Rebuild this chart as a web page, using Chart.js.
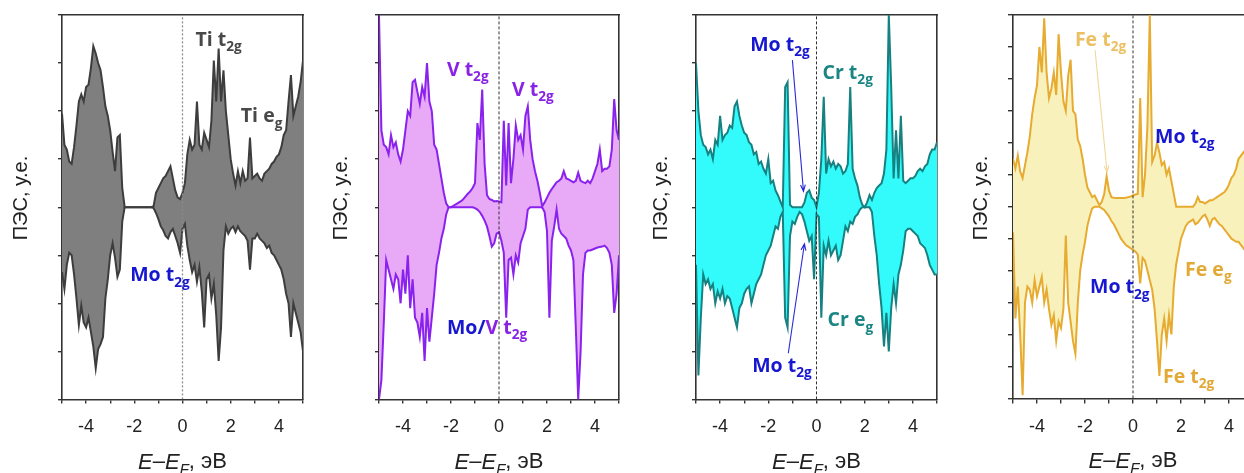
<!DOCTYPE html>
<html>
<head>
<meta charset="utf-8">
<title>DOS</title>
<script src="https://cdn.jsdelivr.net/npm/chart.js@4"></script>
<style>
  html, body { margin: 0; padding: 0; background: #fff; }
  #wrap { position: relative; width: 1244px; height: 473px; overflow: hidden; }
  #wrap canvas { position: absolute; top: 0; }
</style>
</head>
<body>
<div id="wrap">
  <canvas id="dosTi" width="320" height="473" style="left:0px"></canvas>
  <canvas id="dosV" width="320" height="473" style="left:320px"></canvas>
  <canvas id="dosCr" width="320" height="473" style="left:640px"></canvas>
  <canvas id="dosFe" width="320" height="473" style="left:960px"></canvas>
</div>
<script>
// energy grid, eV relative to E_F
const energies = [
  -5.0, -4.9, -4.8, -4.7, -4.6, -4.5, -4.4, -4.3, -4.2, -4.1,
  -4.0, -3.9, -3.8, -3.7, -3.6, -3.5, -3.4, -3.3, -3.2, -3.1,
  -3.0, -2.9, -2.8, -2.7, -2.6, -2.5, -2.4, -2.3, -2.2, -2.1,
  -2.0, -1.9, -1.8, -1.7, -1.6, -1.5, -1.4, -1.3, -1.2, -1.1,
  -1.0, -0.9, -0.8, -0.7, -0.6, -0.5, -0.4, -0.3, -0.2, -0.1,
  0.0, 0.1, 0.2, 0.3, 0.4, 0.5, 0.6, 0.7, 0.8, 0.9,
  1.0, 1.1, 1.2, 1.3, 1.4, 1.5, 1.6, 1.7, 1.8, 1.9,
  2.0, 2.1, 2.2, 2.3, 2.4, 2.5, 2.6, 2.7, 2.8, 2.9,
  3.0, 3.1, 3.2, 3.3, 3.4, 3.5, 3.6, 3.7, 3.8, 3.9,
  4.0, 4.1, 4.2, 4.3, 4.4, 4.5, 4.6, 4.7, 4.8, 4.9,
  5.0,
];
const eFermi = 0;
const xTickLabels = ["-4", "-2", "0", "2", "4"];

// Ti-based compound: spin up / spin down
const tiUp = [
  1.95, 1.3, 1.2, 0.95, 0.9, 1.25, 1.7, 2.2, 2.35, 2.2,
  2.5, 2.55, 2.9, 3.35, 3.2, 3.0, 2.85, 2.5, 2.1, 1.9,
  1.6, 1.15, 0.75, 1.45, 1.5, 0.4, 0, 0, 0, 0,
  0, 0, 0, 0, 0, 0, 0, 0, 0.02, 0.3,
  0.4, 0.5, 0.6, 0.65, 0.75, 0.85, 0.6, 0.35, 0.2, 0.17,
  0.3, 0.5, 1.1, 1.4, 1.2, 1.3, 2.2, 1.3, 1.2, 1.55,
  1.4, 1.25, 1.8, 3.05, 2.2, 3.3, 2.2, 2.85, 2.0, 1.5,
  1.0, 0.7, 0.45, 0.75, 0.5, 0.75, 0.55, 0.6, 1.45, 0.6,
  0.65, 0.7, 0.6, 0.55, 0.7, 0.75, 0.8, 0.9, 0.95, 1.05,
  1.1, 1.25, 1.5, 1.6, 2.2, 2.75, 1.9, 2.1, 2.3, 2.6,
  3.05,
];
const tiDown = [
  -1.35, -1.7, -1.2, -0.95, -1.0, -1.4, -1.9, -2.45, -2.05, -2.4,
  -2.5, -2.3, -2.6, -2.9, -3.35, -2.95, -2.85, -2.7, -1.9, -1.5,
  -1.0, -0.75, -1.05, -1.45, -1.3, -0.3, 0, 0, 0, 0,
  0, 0, 0, 0, 0, 0, 0, 0, -0.02, -0.12,
  -0.25, -0.4, -0.48, -0.6, -0.65, -0.52, -0.45, -0.6, -0.75, -0.95,
  -0.45, -0.35, -0.8, -1.1, -1.35, -1.2, -1.55, -1.25, -1.75, -2.5,
  -1.5, -1.4, -1.9, -1.6, -2.25, -3.2, -2.5, -0.9, -0.4, -0.55,
  -0.45, -0.4, -0.52, -0.4, -0.5, -0.55, -0.6, -0.7, -1.3, -0.65,
  -0.65, -0.55, -0.65, -0.7, -0.75, -0.85, -0.8, -0.95, -1.0, -1.1,
  -1.2, -1.3, -1.5, -1.8, -2.0, -2.7, -2.0, -2.2, -2.4, -2.6,
  -3.0,
];

// V-based compound
const vUp = [
  4.0, 1.6, 1.3, 1.25, 1.1, 1.5, 1.25, 1.35, 1.1, 0.95,
  1.2, 1.6, 2.0, 1.9, 2.6, 2.65, 2.4, 2.15, 2.5, 2.3,
  3.0, 2.2, 2.0, 1.3, 1.2, 0.9, 0.6, 0.3, 0.08, 0,
  0, 0.03, 0.06, 0.09, 0.12, 0.16, 0.22, 0.28, 0.33, 0.4,
  0.5, 1.75, 1.4, 2.45, 0.9, 0.25, 0.17, 0.15, 0.12, 0.13,
  0.12, 0.1, 1.8, 0.45, 1.75, 0.5, 1.0, 1.7, 1.4, 1.5,
  1.2, 1.9, 2.1, 1.4, 1.0, 0.75, 0.55, 0.3, 0.02, 0.1,
  0.2, 0.3, 0.38, 0.45, 0.52, 0.55, 0.6, 0.75, 0.6, 0.58,
  0.55, 0.52, 0.55, 0.72, 0.55, 0.52, 0.5, 0.55, 0.5, 0.6,
  0.75, 0.9, 1.2, 0.75, 0.8, 0.8, 0.85, 1.2, 2.25, 1.6,
  1.4,
];
const vDown = [
  -4.0, -3.6, -2.4, -1.1, -1.3, -1.5, -1.7, -1.4, -1.5, -2.0,
  -1.3, -1.8, -1.0, -2.1, -1.5, -2.3, -2.4, -2.7, -2.2, -3.2,
  -2.1, -2.8, -2.3, -1.8, -1.2, -0.95, -0.65, -0.45, -0.15, 0,
  0, 0, 0, 0, 0, 0, 0, 0, 0, 0,
  -0.02, -0.05, -0.1, -0.18, -0.28, -0.4, -0.6, -0.82, -0.75, -0.55,
  -0.52, -0.7, -0.95, -2.3, -1.1, -1.05, -1.4, -1.0, -1.15, -0.75,
  -0.6, -0.45, -0.05, 0, 0, 0, 0, 0, 0, -0.1,
  -0.5, -2.3, -0.7, -0.4, -0.05, -0.45, -0.55, -0.6, -0.65, -0.8,
  -0.9, -1.1, -2.5, -4.0, -3.0, -1.4, -0.95, -0.9, -0.9, -0.88,
  -0.86, -0.84, -0.83, -0.82, -0.8, -0.85, -0.95, -1.2, -2.2, -1.8,
  -1.0,
];

// Cr-based compound
const crUp = [
  3.0, 2.0, 1.5, 1.3, 1.25, 1.1, 1.2, 1.0, 1.4, 1.3,
  1.9, 1.4, 1.5, 1.55, 1.7, 1.65, 2.1, 2.2, 1.9, 1.7,
  1.55, 1.5, 1.35, 1.3, 1.1, 1.15, 0.9, 0.95, 0.8, 0.7,
  1.0, 0.5, 0.55, 0.35, 0.25, 0.12, 0, 2.5, 2.6, 0.05,
  0, 0, 0, 0, 0, 0.1, 0.3, 0.35, 0.2, 0.15,
  0, 0.3, 1.0, 2.3, 0.7, 1.0, 0.85, 0.95, 0.8, 0.9,
  0.85, 0.7, 0.75, 0.9, 2.5, 0.8, 0.6, 0.45, 0.2, 0.05,
  0, 0.1, 0.25, 0.15, 0.3, 0.4, 0.45, 0.5, 0.7, 1.2,
  4.0, 2.5, 0.6, 1.6, 0.6, 1.9, 0.55, 0.5, 0.55, 0.6,
  0.6, 0.65, 0.75, 0.8, 0.75, 0.85, 0.9, 1.1, 1.2, 1.2,
  1.35,
];
const crDown = [
  -1.2, -3.5, -2.3, -1.4, -1.6, -1.5, -1.7, -1.6, -2.0, -1.75,
  -1.9, -1.7, -2.0, -1.85, -1.9, -2.1, -2.3, -2.5, -2.1, -2.0,
  -1.8, -1.7, -1.65, -2.0, -1.8, -1.6, -1.5, -1.4, -1.2, -1.0,
  -0.9, -0.8, -0.6, -0.4, -0.45, -0.2, -0.1, -2.3, -2.5, -0.6,
  -0.3, -0.35, -0.2, -0.1, -0.15, -0.3, -0.5, -0.7, -0.6, -1.5,
  -0.15, -0.2, -2.3, -0.8, -1.0, -0.7, -1.0, -0.9, -0.8, -1.1,
  -1.0, -0.7, -0.4, -0.5, -0.3, -0.35, -0.2, -0.15, -0.05, 0,
  0, 0, 0, -0.1, -0.6, -1.0, -1.6, -2.1, -2.9, -2.2,
  -3.0, -2.1, -1.6, -2.0, -1.4, -1.2, -0.9, -0.5, -0.45, -0.45,
  -0.5, -0.55, -0.6, -0.75, -0.8, -0.85, -1.0, -1.2, -1.3, -1.4,
  -1.4,
];

// Fe-based compound (wider y range)
const feUp = [
  1.5, 1.2, 1.6, 1.1, 0.9, 1.3, 1.7, 2.2, 2.9, 3.4,
  3.8, 5.0, 4.2, 5.9, 4.2, 3.4, 3.7, 4.2, 3.5, 5.4,
  4.2, 3.3, 3.0, 4.1, 4.6, 3.0, 2.9, 2.1, 1.9, 1.5,
  1.0, 0.6, 0.45, 0.3, 0.35, 0.2, 0.05, 0.15, 0.4, 0.95,
  0.5, 0.3, 0.28, 0.27, 0.27, 0.27, 0.27, 0.28, 0.3, 0.32,
  0.35, 0.38, 0.4, 3.4, 0.3, 1.0, 2.5, 6.0, 1.4, 1.6,
  2.0, 1.7, 1.3, 1.4, 1.0, 1.2, 0.8, 0.4, 0, 0,
  0, 0, 0, 0, 0, 0, 0.1, 0.3, 0.15, 0.15,
  0.1, 0.15, 0.2, 0.2, 0.25, 0.3, 0.35, 0.4, 0.45, 0.55,
  0.7, 0.9, 1.0, 1.2, 1.5, 1.6, 1.7, 1.8, 1.9, 2.0,
  2.1,
];
const feDown = [
  -0.8, -3.5, -2.5, -4.0, -5.9, -3.0, -2.5, -2.6, -3.0, -2.3,
  -2.8, -2.5, -2.2, -3.0, -2.6, -3.2, -3.7, -3.4, -4.2, -3.6,
  -3.8, -3.2, -0.9, -3.0, -3.6, -4.2, -4.6, -3.0, -2.0, -1.5,
  -1.1, -0.6, -0.3, -0.05, 0, 0, 0, -0.05, -0.1, -0.2,
  -0.3, -0.45, -0.55, -0.7, -0.85, -1.0, -1.1, -1.2, -1.25, -1.3,
  -1.35, -1.4, -1.5, -2.4, -1.6, -1.7, -2.0, -2.3, -2.6, -3.2,
  -4.2, -5.3, -4.0, -3.5, -4.2, -3.4, -4.0, -2.5, -1.8, -1.4,
  -1.0, -0.8, -0.6, -0.5, -0.45, -0.4, -0.55, -0.5, -0.4, -0.3,
  -0.25, -0.4, -0.6, -0.4, -0.35, -0.45, -0.55, -0.6, -0.7, -0.8,
  -0.9, -1.0, -1.05, -1.1, -1.1, -1.2, -1.3, -1.4, -1.4, -1.5,
  -1.5,
];

const SANS = '"Liberation Sans", Arial, sans-serif';
const BOLD = '"Open Sans", "DejaVu Sans", sans-serif';
const AXIS = "#333333";
const MO = "#1717cf";

// text run helpers for orbital labels, e.g. "Ti t" + subscript "2g"
const run = (text, color, sub = false) => ({ text, color, sub });
const orb = (e, v, color, main) => ({ e, v, runs: [run(main, color), run("2g", color, true)] });
const orbEg = (e, v, color, main) => ({ e, v, runs: [run(main, color), run("g", color, true)] });

const panels = [
  {
    id: "dosTi", up: tiUp, down: tiDown, yMax: 4, tick: 4,
    line: "#3d3d3d", fill: "#7f7f7f",
    zero: { color: "#8a8a8a", dash: [2, 2], width: 1.3 },
    padLeft: 58, padRight: 17,
    labels: [
      orb(0.54, 3.47, "#484848", "Ti t"),
      orbEg(2.42, 1.88, "#484848", "Ti e"),
      orb(-2.17, -1.43, MO, "Mo t"),
    ],
    arrows: [],
  },
  {
    id: "dosV", up: vUp, down: vDown, yMax: 4, tick: 4,
    line: "#8a22ee", fill: "#e8a9f7",
    zero: { color: "#333", dash: [3, 2], width: 1 },
    padLeft: 55, padRight: 21,
    labels: [
      orb(-2.17, 2.85, "#8a22e6", "V t"),
      orb(0.54, 2.44, "#8a22e6", "V t"),
      { e: -2.17, v: -2.52, runs: [run("Mo/", MO), run("V t", "#8a22e6"), run("2g", "#8a22e6", true)] },
    ],
    arrows: [],
  },
  {
    id: "dosCr", up: crUp, down: crDown, yMax: 4, tick: 4,
    line: "#178080", fill: "#33fbfb",
    zero: { color: "#333", dash: [3, 2], width: 1 },
    padLeft: 52, padRight: 23,
    labels: [
      orb(-2.75, 3.37, MO, "Mo t"),
      orb(0.25, 2.79, "#1b8585", "Cr t"),
      orbEg(0.46, -2.36, "#1b8585", "Cr e"),
      orb(-2.67, -3.31, MO, "Mo t"),
    ],
    arrows: [
      { from: [-1.0, 3.06], to: [-0.54, 0.33], color: "#2b2bd6" },
      { from: [-1.17, -3.04], to: [-0.5, -0.76], color: "#2b2bd6" },
    ],
  },
  {
    id: "dosFe", up: feUp, down: feDown, yMax: 6, tick: 5,
    line: "#e6ab30", fill: "#f8f1bb",
    zero: { color: "#333", dash: [3, 2], width: 1 },
    padLeft: 48, padRight: 27,
    labels: [
      orb(-2.42, 5.2, "#ecc062", "Fe t"),
      orb(0.92, 2.17, MO, "Mo t"),
      orb(-1.79, -2.54, MO, "Mo t"),
      orbEg(2.17, -1.98, "#e3a935", "Fe e"),
      orb(1.25, -5.33, "#e3a935", "Fe t"),
    ],
    arrows: [
      { from: [-1.58, 4.9], to: [-1.08, 1.08], color: "#f0d898" },
    ],
  },
];

function drawRuns(ctx, x, y, runs, size) {
  let cx = x;
  runs.forEach((r) => {
    const fs = r.sub ? size * 0.7 : size;
    ctx.font = `bold ${fs}px ${BOLD}`;
    ctx.fillStyle = r.color;
    ctx.fillText(r.text, cx, y + (r.sub ? size * 0.36 : 0));
    cx += ctx.measureText(r.text).width;
  });
}

function drawArrow(ctx, x1, y1, x2, y2, color) {
  const ang = Math.atan2(y2 - y1, x2 - x1);
  const head = 7;
  ctx.strokeStyle = color;
  ctx.lineWidth = 1.1;
  ctx.beginPath();
  ctx.moveTo(x1, y1);
  ctx.lineTo(x2, y2);
  ctx.moveTo(x2 - head * Math.cos(ang - 0.35), y2 - head * Math.sin(ang - 0.35));
  ctx.lineTo(x2, y2);
  ctx.lineTo(x2 - head * Math.cos(ang + 0.35), y2 - head * Math.sin(ang + 0.35));
  ctx.stroke();
}

// axis titles, orbital labels and arrows
const dosTextPlugin = {
  id: "dosText",
  afterDraw(chart, args, opts) {
    const { ctx, chartArea, scales } = chart;
    const px = (e) => scales.x.getPixelForValue(e);
    const py = (v) => scales.y.getPixelForValue(v);
    ctx.save();
    ctx.textBaseline = "middle";
    ctx.textAlign = "left";

    opts.arrows.forEach((a) => {
      drawArrow(ctx, px(a.from[0]), py(a.from[1]), px(a.to[0]), py(a.to[1]), a.color);
    });
    opts.labels.forEach((l) => drawRuns(ctx, px(l.e), py(l.v), l.runs, 19.5));

    // y title
    ctx.save();
    ctx.translate(21, 198);
    ctx.rotate(-Math.PI / 2);
    ctx.textAlign = "center";
    ctx.fillStyle = "#222";
    ctx.font = `20px ${SANS}`;
    ctx.fillText("ПЭС, у.е.", 0, 0);
    ctx.restore();

    // x title: E–E_F, эВ
    const size = 22;
    const parts = [
      { t: "E", it: true }, { t: "–" }, { t: "E", it: true },
      { t: "F", it: true, sub: true }, { t: ", эВ" },
    ];
    const fontOf = (p) => `${p.it ? "italic " : ""}${p.sub ? size * 0.68 : size}px ${SANS}`;
    let total = 0;
    parts.forEach((p) => { ctx.font = fontOf(p); total += ctx.measureText(p.t).width; });
    let cx = (chartArea.left + chartArea.right) / 2 - total / 2;
    const cy = chartArea.bottom + 63;
    ctx.fillStyle = "#222";
    parts.forEach((p) => {
      ctx.font = fontOf(p);
      ctx.fillText(p.t, cx, cy + (p.sub ? size * 0.32 : 0));
      cx += ctx.measureText(p.t).width;
    });
    ctx.restore();
  },
};

function createDosChart(p) {
  const ctx = document.getElementById(p.id).getContext("2d");
  const toPoints = (vals) => vals.map((v, i) => ({ x: energies[i], y: v }));
  const edge = { display: true, color: AXIS, width: 1.6 };
  const tickGrid = {
    display: true, drawOnChartArea: false, drawTicks: true,
    tickLength: p.tick, color: AXIS, tickColor: AXIS, lineWidth: 1.4,
  };
  const hidden = { display: false, drawTicks: false };

  return new Chart(ctx, {
    type: "line",
    data: {
      datasets: [
        {
          label: "E_F",
          data: [{ x: eFermi, y: -p.yMax }, { x: eFermi, y: p.yMax }],
          borderColor: p.zero.color,
          borderWidth: p.zero.width,
          borderDash: p.zero.dash,
          pointRadius: 0,
          fill: false,
        },
        {
          // spin up, shaded down to the spin-down curve
          label: "up",
          data: toPoints(p.up),
          borderColor: p.line,
          backgroundColor: p.fill,
          borderWidth: 2,
          pointRadius: 0,
          tension: 0,
          fill: "+1",
        },
        {
          label: "down",
          data: toPoints(p.down),
          borderColor: p.line,
          borderWidth: 2,
          pointRadius: 0,
          tension: 0,
          fill: false,
        },
      ],
    },
    options: {
      responsive: false,
      animation: false,
      events: [],
      layout: { padding: { left: p.padLeft, right: p.padRight, top: 15, bottom: 22 } },
      plugins: {
        legend: { display: false },
        tooltip: { enabled: false },
        filler: { propagate: false, drawTime: "beforeDatasetsDraw" },
        dosText: { labels: p.labels, arrows: p.arrows },
      },
      scales: {
        x: {
          type: "linear", position: "bottom", min: -5, max: 5,
          ticks: {
            stepSize: 1, autoSkip: false, maxRotation: 0, padding: 13,
            color: "#222", font: { family: SANS, size: 18 },
            callback: (v) => (xTickLabels.includes(String(v)) ? String(v) : ""),
          },
          grid: tickGrid,
          border: edge,
        },
        xTop: {
          type: "linear", position: "top", min: -5, max: 5,
          ticks: { display: false },
          grid: hidden,
          border: edge,
        },
        y: {
          type: "linear", position: "left", min: -p.yMax, max: p.yMax,
          ticks: { display: false, stepSize: 1 },
          grid: tickGrid,
          border: edge,
        },
        yRight: {
          type: "linear", position: "right", min: -p.yMax, max: p.yMax,
          ticks: { display: false },
          grid: hidden,
          border: edge,
        },
      },
    },
    plugins: [dosTextPlugin],
  });
}

document.addEventListener("DOMContentLoaded", () => panels.forEach(createDosChart));
</script>
</body>
</html>
